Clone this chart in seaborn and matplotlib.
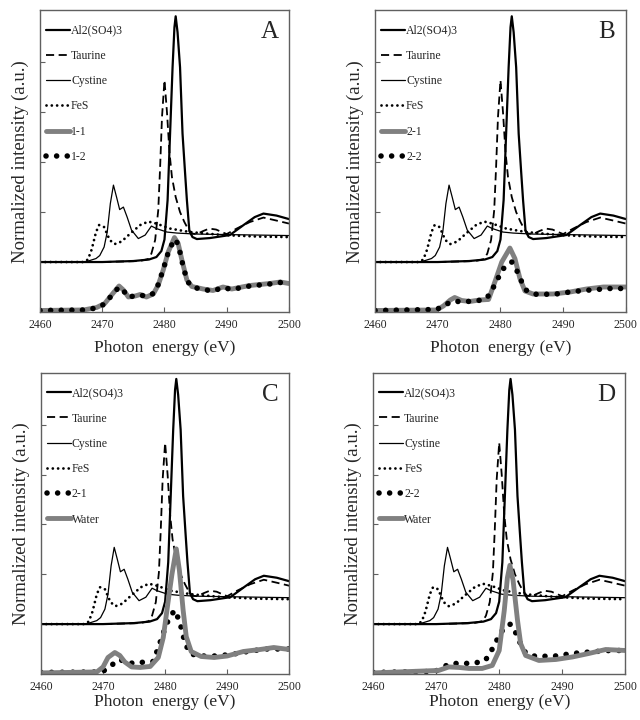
import matplotlib
matplotlib.use('Agg')
import matplotlib.pyplot as plt
import seaborn as sns

# reference spectra (offset by 1 unit), shared by all panels
al_x = [2460, 2470, 2475, 2477.5, 2478.7, 2479.5, 2480.0, 2480.5, 2480.9, 2481.3, 2481.6, 2481.8, 2482.1,
        2482.5, 2482.9, 2483.3, 2483.6, 2484.0, 2484.5, 2485.2, 2487.3, 2490.5, 2492.7, 2494.5, 2495.9, 2498, 2500]
al_y = [1.0, 1.0, 1.02, 1.05, 1.1, 1.22, 1.45, 2.24, 3.57, 4.9, 5.7, 5.92, 5.6,
        4.9, 3.57, 2.8, 2.24, 1.62, 1.5, 1.46, 1.48, 1.54, 1.74, 1.9, 1.97, 1.93, 1.86]

tau_x = [2460, 2470, 2476, 2477.4, 2477.9, 2478.5, 2479.0, 2479.3, 2479.6, 2480.0, 2480.4, 2480.8, 2481.2, 2481.8,
         2482.5, 2483.2, 2483.8, 2484.4, 2485.2, 2486.2, 2487.2, 2488.3, 2489.2, 2490.0, 2491.6, 2493.7, 2495.9,
         2498, 2500]
tau_y = [1.0, 1.0, 1.02, 1.06, 1.17, 1.44, 2.04, 2.9, 3.9, 4.64, 4.0, 3.2, 2.7, 2.3,
         2.0, 1.8, 1.66, 1.57, 1.56, 1.62, 1.67, 1.65, 1.6, 1.56, 1.67, 1.8, 1.89,
         1.83, 1.77]

cys_x = [2460, 2467, 2468.0, 2469.0, 2469.6, 2470.3, 2470.8, 2471.3, 2471.8, 2472.3, 2472.8, 2473.4, 2474.0,
         2474.7, 2475.8, 2476.9, 2477.9, 2478.7, 2480.4, 2482, 2485, 2490, 2495, 2500]
cys_y = [1.0, 1.0, 1.03, 1.07, 1.13, 1.3, 1.6, 2.17, 2.54, 2.3, 2.05, 2.1, 1.9,
         1.64, 1.47, 1.54, 1.72, 1.67, 1.6, 1.58, 1.56, 1.55, 1.54, 1.53]

fes_x = [2460, 2467, 2467.7, 2468.3, 2469.0, 2469.5, 2470.3, 2471.2, 2472.0, 2473.1, 2474.5, 2476.1, 2477.4,
         2478.7, 2480.9, 2484.1, 2489.4, 2495, 2500]
fes_y = [1.0, 1.0, 1.05, 1.25, 1.6, 1.74, 1.7, 1.44, 1.36, 1.41, 1.57, 1.74, 1.81,
         1.77, 1.67, 1.6, 1.54, 1.51, 1.5]

# samples
s11_x = [2460, 2467.0, 2469.1, 2470.4, 2471.5, 2472.7, 2473.4, 2474.2, 2475.3, 2476.1, 2477.1, 2478.2, 2479.0,
         2479.8, 2480.6, 2481.6, 2482.2, 2482.8, 2483.6, 2484.4, 2486.2, 2487.8, 2489.4, 2490.8, 2493.7, 2496.9,
         2498.6, 2500]
s11_y = [0.03, 0.04, 0.09, 0.17, 0.34, 0.52, 0.44, 0.3, 0.32, 0.35, 0.3, 0.36, 0.54,
         0.84, 1.2, 1.49, 1.37, 1.04, 0.64, 0.51, 0.46, 0.43, 0.5, 0.46, 0.53, 0.57,
         0.6, 0.57]
s12_x = [2460, 2467.0, 2469.1, 2470.4, 2471.5, 2472.7, 2473.4, 2474.2, 2475.3, 2476.1, 2477.1, 2478.2, 2479.0,
         2479.8, 2480.6, 2481.6, 2482.2, 2482.8, 2483.6, 2484.4, 2486.2, 2487.8, 2489.4, 2490.8, 2493.7, 2496.9,
         2498.6, 2500]
s12_y = [0.03, 0.04, 0.08, 0.16, 0.33, 0.5, 0.43, 0.29, 0.33, 0.34, 0.31, 0.37, 0.55,
         0.85, 1.19, 1.46, 1.36, 1.02, 0.63, 0.5, 0.45, 0.42, 0.49, 0.45, 0.52, 0.56,
         0.59, 0.57]
s21_x = [2460, 2469.8, 2470.9, 2472.0, 2472.7, 2473.8, 2475.1, 2476.7, 2478.1, 2479.1, 2480.2, 2481.5, 2482.3,
         2483.1, 2483.9, 2485.2, 2488.4, 2491.1, 2493.7, 2496.4, 2500]
s21_y = [0.03, 0.04, 0.12, 0.24, 0.29, 0.23, 0.21, 0.24, 0.25, 0.6, 1.0, 1.28, 1.07,
         0.67, 0.42, 0.36, 0.36, 0.4, 0.46, 0.5, 0.5]
s22_x = [2460, 2469.8, 2470.9, 2472.2, 2473.3, 2474.6, 2476.2, 2477.8, 2478.9, 2480.0, 2480.8, 2481.8, 2482.6,
         2483.4, 2484.2, 2485.8, 2488.9, 2491.6, 2494.3, 2497.5, 2500]
s22_y = [0.03, 0.05, 0.12, 0.21, 0.21, 0.21, 0.22, 0.27, 0.5, 0.77, 0.93, 1.0, 0.83,
         0.6, 0.42, 0.35, 0.36, 0.41, 0.44, 0.47, 0.47]
wc_x = [2460, 2469.0, 2470.0, 2470.8, 2471.9, 2472.7, 2473.5, 2474.6, 2476.0, 2477.6, 2478.9, 2479.7, 2480.5,
        2481.1, 2481.8, 2482.3, 2482.9, 2483.4, 2484.2, 2485.8, 2487.9, 2490.0, 2492.6, 2495.3, 2497.5, 2500]
wc_y = [0.02, 0.04, 0.14, 0.33, 0.43, 0.37, 0.24, 0.14, 0.13, 0.15, 0.33, 0.73, 1.47,
        2.0, 2.51, 2.08, 1.28, 0.75, 0.45, 0.35, 0.33, 0.36, 0.45, 0.49, 0.53, 0.49]
wd_x = [2460, 2470.4, 2472.0, 2473.6, 2475.2, 2477.3, 2478.9, 2480.0, 2480.8, 2481.3, 2481.7, 2482.2, 2482.9,
        2483.4, 2484.2, 2486.3, 2489.0, 2491.6, 2494.2, 2496.9, 2500]
wd_y = [0.02, 0.07, 0.14, 0.13, 0.11, 0.11, 0.17, 0.47, 1.27, 1.93, 2.18, 1.88, 1.08,
        0.61, 0.37, 0.27, 0.29, 0.34, 0.41, 0.49, 0.47]

xticks = [2460, 2470, 2480, 2490, 2500]

sns.set_style("ticks")
plt.rcParams['font.family'] = ['Liberation Serif', 'DejaVu Serif']

GRAY = '#808080'
SPINE = '#606060'
styles = {
    'ref_al': dict(color='black', lw=1.6),
    'ref_tau': dict(color='black', lw=1.3, linestyle=(0, (4.5, 2.5))),
    'ref_cys': dict(color='black', lw=0.9),
    'ref_fes': dict(color='black', lw=2.0, linestyle=(0, (0.01, 1.9)), dash_capstyle='round'),
    'gray': dict(color=GRAY, lw=3.5),
    'dots': dict(color='black', lw=4.0, linestyle=(0, (0.01, 1.9)), dash_capstyle='round'),
}


def line(ax, x, y, label, key):
    sns.lineplot(x=x, y=y, ax=ax, label=label, estimator=None, sort=False, **styles[key])


def panel(rect, letter, samples, xlab_y):
    ax = fig.add_axes(rect)
    line(ax, al_x, al_y, 'Al2(SO4)3', 'ref_al')
    line(ax, tau_x, tau_y, 'Taurine', 'ref_tau')
    line(ax, cys_x, cys_y, 'Cystine', 'ref_cys')
    line(ax, fes_x, fes_y, 'FeS', 'ref_fes')
    for x, y, lab, key in samples:
        line(ax, x, y, lab, key)
    ax.set_xlim(2460, 2500)
    ax.set_ylim(0, 6.04)
    ax.set_xticks(xticks)
    ax.set_yticks([1, 2, 3, 4, 5])
    ax.set_yticklabels([])
    ax.tick_params(direction='in', length=3.5, width=0.8, color=SPINE, labelsize=8.5, pad=5)
    for s in ax.spines.values():
        s.set_color(SPINE)
        s.set_linewidth(1.0)
    ax.set_xlabel('Photon  energy (eV)', fontsize=12.5)
    ax.set_ylabel('Normalized intensity (a.u.)', fontsize=13.5)
    ax.xaxis.set_label_coords(0.5, xlab_y)
    ax.yaxis.set_label_coords(-0.045, 0.5)
    ax.text(0.924, 0.927, letter, transform=ax.transAxes, ha='center', va='center', fontsize=18)
    ax.legend(loc='upper left', bbox_to_anchor=(0.025, 0.952), frameon=False, fontsize=8.5,
              handlelength=2.0, handletextpad=0.1, labelspacing=1.12, borderpad=0, borderaxespad=0)
    return ax


fig = plt.figure(figsize=(6.4, 7.2), dpi=100)

panel([0.0625, 0.5667, 0.389, 0.419], 'A',
      [(s11_x, s11_y, '1-1', 'gray'), (s12_x, s12_y, '1-2', 'dots')], -0.093)
panel([0.586, 0.5667, 0.392, 0.419], 'B',
      [(s21_x, s21_y, '2-1', 'gray'), (s22_x, s22_y, '2-2', 'dots')], -0.093)
panel([0.064, 0.064, 0.388, 0.418], 'C',
      [(s21_x, s21_y, '2-1', 'dots'), (wc_x, wc_y, 'Water', 'gray')], -0.066)
panel([0.583, 0.064, 0.394, 0.418], 'D',
      [(s22_x, s22_y, '2-2', 'dots'), (wd_x, wd_y, 'Water', 'gray')], -0.066)

fig.savefig('out.png', dpi=100)
